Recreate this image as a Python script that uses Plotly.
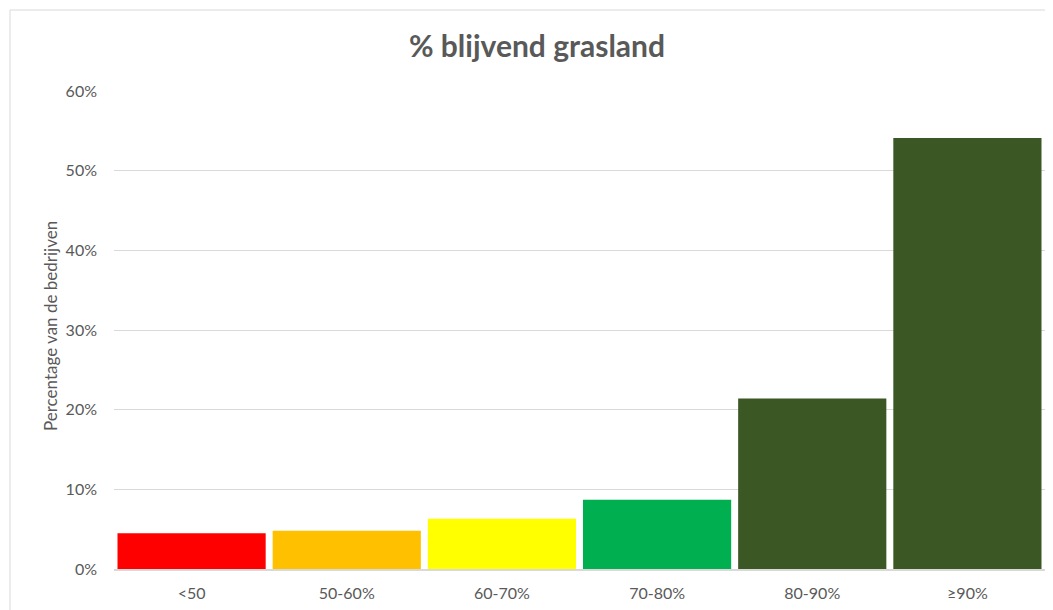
import plotly.graph_objects as go

categories = ["<50", "50-60%", "60-70%", "70-80%", "80-90%", "≥90%"]
values = [0.045, 0.048, 0.063, 0.087, 0.214, 0.541]
colors = ["#FF0000", "#FFC000", "#FFFF00", "#00B050", "#3B5724", "#3B5724"]
y_ticks = [0, 0.1, 0.2, 0.3, 0.4, 0.5, 0.6]
y_ticklabels = ["0%", "10%", "20%", "30%", "40%", "50%", "60%"]

FONT = "Lato"
GREY = "#595959"

fig = go.Figure(go.Bar(
    x=categories, y=values, marker=dict(color=colors, line=dict(width=0)),
    hoverinfo="x+y",
))

# page has an 8px body margin; figure coords = viewport coords - 8
W, H = 1045, 602
L, R, T, B = 106, 8, 83, 41
pw = W - L - R
ph = H - T - B
base = H - B  # y pixel of 0%

fig.update_layout(
    width=W, height=H,
    margin=dict(l=L, r=R, t=T, b=B),
    paper_bgcolor="white", plot_bgcolor="white",
    bargap=0.045,
    showlegend=False,
    font=dict(family=FONT, color=GREY, size=16),
    title=dict(text="<b>% blijvend grasland</b>", x=529 / W, xanchor="center",
               y=1 - 38 / H, yanchor="middle",
               font=dict(family=FONT, size=30, color=GREY)),
)
fig.update_yaxes(
    range=[0, 0.6], tickvals=y_ticks, ticktext=y_ticklabels,
    showgrid=True, gridcolor="#d9d9d9", gridwidth=1,
    zeroline=False, showline=False, ticks="", ticklabelstandoff=16,
    tickfont=dict(family=FONT, size=16, color=GREY),
)
fig.update_xaxes(
    showline=True, linecolor="#d9d9d9", linewidth=1.5,
    ticks="", tickfont=dict(family=FONT, size=16, color=GREY),
    ticklabelstandoff=9,
)
fig.add_annotation(
    text="Percentage van de bedrijven", textangle=-90,
    xref="paper", yref="paper", x=(42 - L) / pw, y=(base - 318) / ph,
    xanchor="center", yanchor="middle", showarrow=False,
    font=dict(family=FONT, size=17, color=GREY),
)
# chart border
fig.add_shape(
    type="rect", xref="paper", yref="paper",
    x0=(2 - L) / pw, x1=(W + 20 - L) / pw,
    y0=(base - H - 20) / ph, y1=(base - 2) / ph,
    line=dict(color="#d9d9d9", width=1), fillcolor="rgba(0,0,0,0)", layer="below",
)

fig.write_html("out.html")
